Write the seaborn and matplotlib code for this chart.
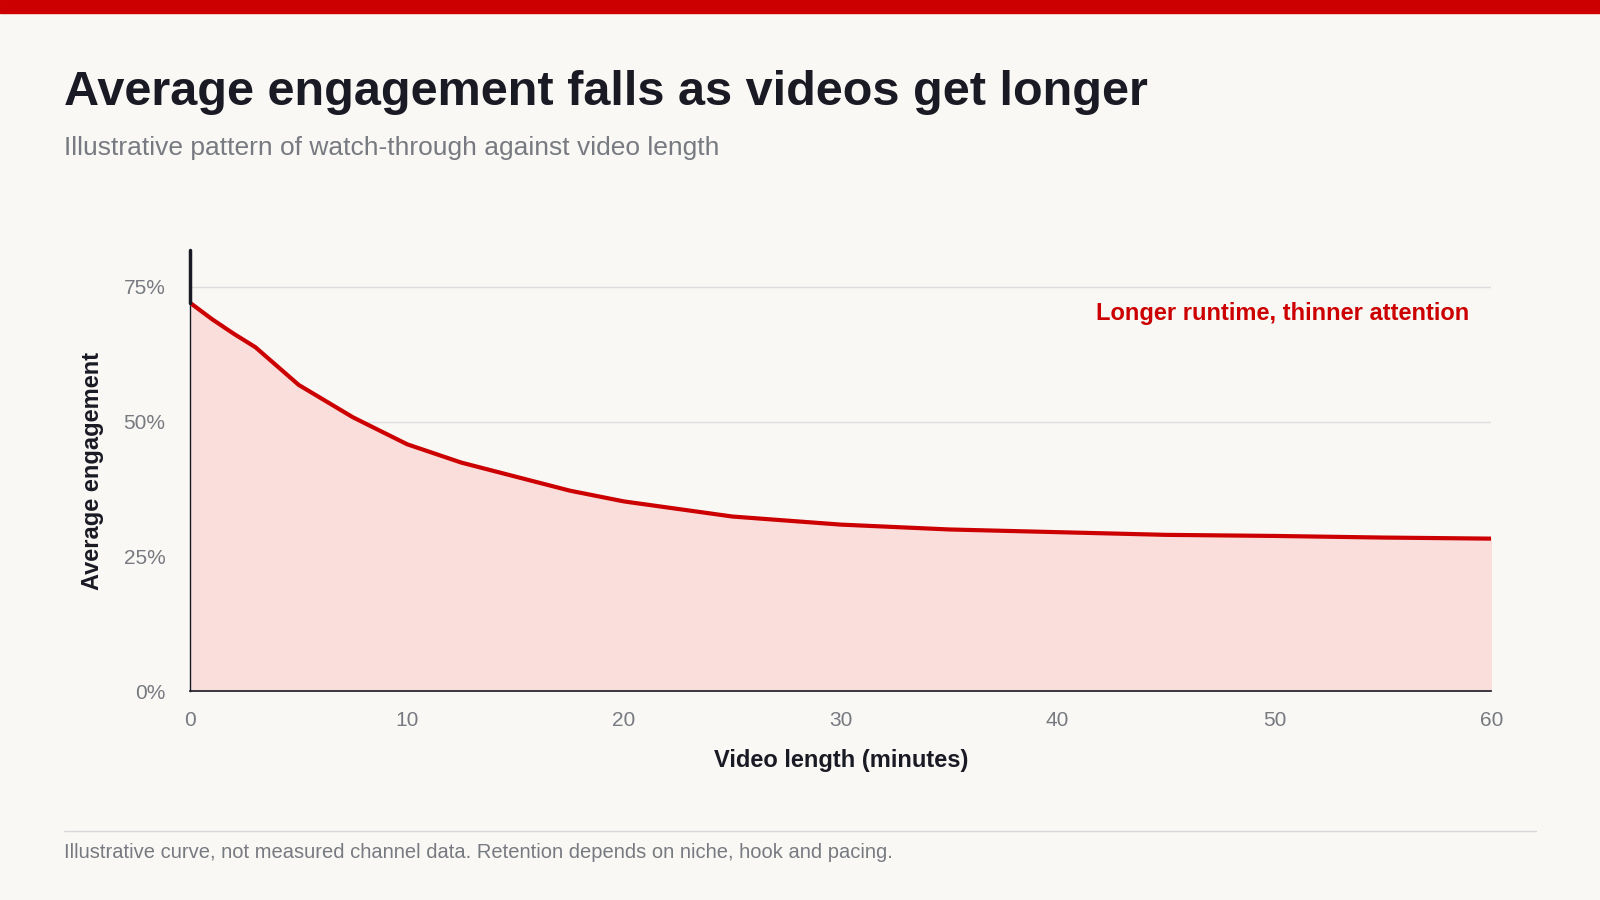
import numpy as np
import pandas as pd
import matplotlib
matplotlib.use("Agg")
import matplotlib.pyplot as plt
import seaborn as sns

minutes = [0, 1, 2, 3, 5, 7.5, 10, 12.5, 15, 17.5, 20, 25, 30, 35, 40, 45, 50, 55, 60]
engagement = [72.0, 69.0, 66.3, 63.8, 56.8, 50.8, 45.8, 42.4, 39.8, 37.2, 35.2, 32.4, 30.9, 30.0, 29.5, 29.0, 28.8, 28.5, 28.3]

df = pd.DataFrame({"minutes": minutes, "engagement": engagement})

RED = "#cc0000"
BG = "#f9f8f5"
DARK = "#1a1a24"
GREY = "#777a80"

sns.set_theme(style="white")
plt.rcParams["font.family"] = ["Liberation Sans", "DejaVu Sans"]

fig = plt.figure(figsize=(16, 9), dpi=100, facecolor=BG)
ax = fig.add_axes([0.119, 0.232, 0.813, 0.49], facecolor=BG)

ax.fill_between(df["minutes"], df["engagement"], color="#f9dedc", zorder=1)
sns.lineplot(data=df, x="minutes", y="engagement", color=RED, linewidth=3, ax=ax, zorder=3)

ax.set_xlim(0, 60)
ax.set_ylim(0, 81.8)
ax.set_xticks(range(0, 61, 10))
ax.set_yticks([0, 25, 50, 75])
ax.set_yticklabels(["0%", "25%", "50%", "75%"])
for y in [25, 50, 75]:
    ax.axhline(y, color="#dddddd", linewidth=1, zorder=0)
ax.tick_params(axis="x", colors=GREY, labelsize=15, length=6, color=DARK, pad=8)
ax.tick_params(axis="y", colors=GREY, labelsize=15, length=0, pad=18)
for s in ["top", "right"]:
    ax.spines[s].set_visible(False)
ax.spines["left"].set_color(DARK)
ax.spines["bottom"].set_color(DARK)
ax.spines["left"].set_linewidth(1)
ax.spines["bottom"].set_linewidth(1.2)
ax.plot([0, 0], [72, 81.8], color=DARK, linewidth=2.5, zorder=4, clip_on=False)

ax.set_xlabel("Video length (minutes)", fontsize=17, fontweight="bold", color=DARK, labelpad=14)
ax.set_ylabel("Average engagement", fontsize=17, fontweight="bold", color=DARK, labelpad=14)

ax.text(59, 70, "Longer runtime, thinner attention", color=RED, fontsize=17,
        fontweight="bold", ha="right", va="center")

fig.patches.append(plt.Rectangle((0, 0.986), 1, 0.014, transform=fig.transFigure, color=RED))
fig.text(0.04, 0.897, "Average engagement falls as videos get longer", fontsize=35,
         fontweight="bold", color=DARK, ha="left", va="center")
fig.text(0.04, 0.836, "Illustrative pattern of watch-through against video length", fontsize=19,
         color=GREY, ha="left", va="center")
fig.add_artist(plt.Line2D([0.04, 0.96], [0.077, 0.077],
                          transform=fig.transFigure, color="#d8d8d8", linewidth=1))
fig.text(0.04, 0.053, "Illustrative curve, not measured channel data. Retention depends on niche, hook and pacing.",
         fontsize=14.5, color=GREY, ha="left", va="center")

fig.savefig("out.png", dpi=100, facecolor=BG)
